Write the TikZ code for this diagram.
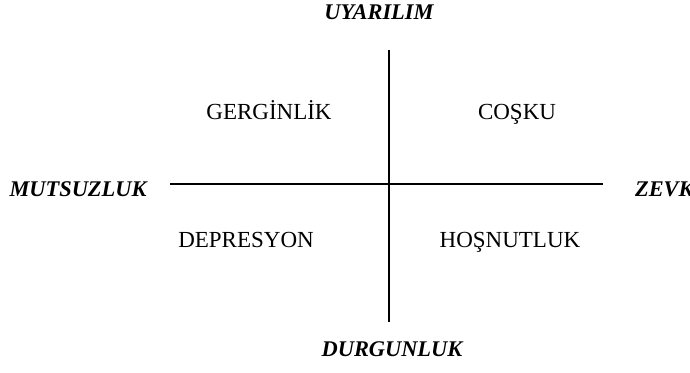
\documentclass[tikz,border=0pt]{standalone}
\usepackage{fontspec}
\setmainfont{Liberation Serif}
\usetikzlibrary{positioning}

\begin{document}
\begin{tikzpicture}[x=0.5pt, y=-0.5pt, font=\fontsize{11.5}{13}\selectfont,
    axislabel/.style={anchor=base, font=\fontsize{11.2}{13}\selectfont\bfseries\itshape},
    moodlabel/.style={anchor=base},
    axis/.style={line width=1.1pt}]

\useasboundingbox (0,0) rectangle (690,373);

% axes
\coordinate (top)    at (389, 50);
\coordinate (bottom) at (389, 322);
\coordinate (left)   at (170, 184);
\coordinate (right)  at (603, 184);
\draw[axis] (top) -- (bottom);
\draw[axis] (left) -- (right);

% axis ends
\node[axislabel] (arousal)  at (379, 20)  {UYARILIM};
\node[axislabel] (sleep)    at (392, 357) {DURGUNLUK};
\node[axislabel] (misery)   at (78, 197)  {MUTSUZLUK};
\node[axislabel, anchor=base west] (pleasure) at (628, 197) {ZEVK};

% quadrants
\node[moodlabel] (tension)     at (269, 120) {GERGİNLİK};
\node[moodlabel] (excitement)  at (517, 120) {COŞKU};
\node[moodlabel] (depression)  at (246, 248) {DEPRESYON};
\node[moodlabel] (contentment) at (510, 248) {HOŞNUTLUK};

\end{tikzpicture}
\end{document}
